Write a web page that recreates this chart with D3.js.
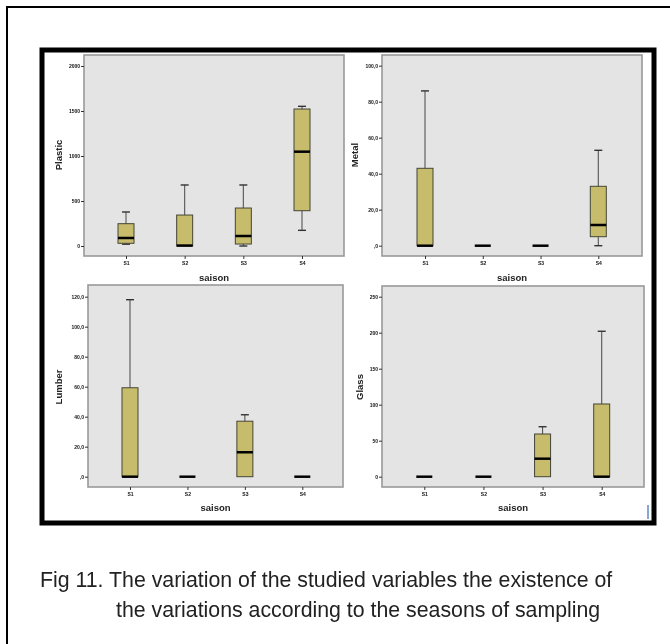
<!DOCTYPE html>
<html>
<head>
<meta charset="utf-8">
<style>
  body { margin: 0; background: #fff; }
  svg { display: block; font-family: "Liberation Sans", Arial, sans-serif; }
</style>
</head>
<body>
<div id="container"></div>
<script src="https://cdn.jsdelivr.net/npm/d3@7"></script>
<script>

// seasons on the x axis of every panel
const seasons = ["S1", "S2", "S3", "S4"];

// box stats per season: [whisker low, Q1, median, Q3, whisker high]
const plastic = [[20, 30, 89, 248, 378], [0, 0, 5, 344, 678], [0, 22, 111, 422, 678], [174, 392, 1048, 1522, 1552]];
const metal   = [[0, 0, 0, 43, 86], [0, 0, 0, 0, 0], [0, 0, 0, 0, 0], [0, 5, 11.5, 33, 53]];
const lumber  = [[0, 0, 0, 59.3, 118], [0, 0, 0, 0, 0], [0, 0, 16.3, 37, 41.3], [0, 0, 0, 0, 0]];
const glass   = [[0, 0, 0, 0, 0], [0, 0, 0, 0, 0], [0, 0, 25, 59.3, 69.4], [0, 0, 0, 101, 202]];

// y tick values
const plasticTicks = [0, 500, 1000, 1500, 2000];
const metalTicks   = [0, 20, 40, 60, 80, 100];
const lumberTicks  = [0, 20, 40, 60, 80, 100, 120];
const glassTicks   = [0, 50, 100, 150, 200, 250];

const comma = d => d === 0 ? ",0" : d + ",0";

const width = 670, height = 644;

const svg = d3.create("svg").attr("width", width).attr("height", height);

const defs = svg.append("defs");
defs.append("filter").attr("id", "soft")
  .append("feGaussianBlur").attr("stdDeviation", 0.45);

// outer page border (right/bottom run off the picture)
svg.append("rect").attr("x", 7).attr("y", 7).attr("width", 700).attr("height", 700)
  .attr("fill", "none").attr("stroke", "#000").attr("stroke-width", 2);

// figure frame
svg.append("rect").attr("x", 42).attr("y", 50).attr("width", 612).attr("height", 473)
  .attr("fill", "#fff").attr("stroke", "#000").attr("stroke-width", 5);

const chart = svg.append("g").attr("filter", "url(#soft)");

const panels = [
  { name: "Plastic", data: plastic, ticks: plasticTicks, fmt: d => d, max: 2000,
    box: [84, 55, 344, 256], yr: [246, 66], xr: [126, 302], lab: [59, 155], sais: 281 },
  { name: "Metal", data: metal, ticks: metalTicks, fmt: comma, max: 100,
    box: [382, 55, 642, 256], yr: [245.7, 65.7], xr: [425, 598.3], lab: [355, 155], sais: 281 },
  { name: "Lumber", data: lumber, ticks: lumberTicks, fmt: comma, max: 120,
    box: [88, 285, 343, 487], yr: [476.7, 296.7], xr: [130, 302.3], lab: [59, 387], sais: 511 },
  { name: "Glass", data: glass, ticks: glassTicks, fmt: d => d, max: 250,
    box: [382, 286, 644, 487], yr: [476.7, 296.7], xr: [424.3, 601.7], lab: [360, 387], sais: 511 }
];

panels.forEach(p => {
  const g = chart.append("g");
  const [x0, y0, x1, y1] = p.box;

  g.append("rect").attr("x", x0).attr("y", y0).attr("width", x1 - x0).attr("height", y1 - y0)
    .attr("fill", "#e4e4e4").attr("stroke", "#999").attr("stroke-width", 1.6);

  const y = d3.scaleLinear().domain([0, p.max]).range(p.yr);
  const x = d3.scalePoint().domain(seasons).range(p.xr);

  const ya = g.append("g").attr("transform", `translate(${x0},0)`)
    .call(d3.axisLeft(y).tickValues(p.ticks).tickFormat(p.fmt).tickSize(3).tickPadding(1));
  ya.select(".domain").remove();
  ya.selectAll("text").attr("font-size", 5).attr("font-weight", "bold").attr("fill", "#111");
  ya.selectAll("line").attr("stroke", "#333");

  const xa = g.append("g").attr("transform", `translate(0,${y1})`)
    .call(d3.axisBottom(x).tickSize(3).tickPadding(2));
  xa.select(".domain").remove();
  xa.selectAll("text").attr("font-size", 5).attr("font-weight", "bold").attr("fill", "#111");
  xa.selectAll("line").attr("stroke", "#333");

  const bw = 16, cap = 8;
  const b = g.selectAll(".bx").data(p.data).join("g").attr("class", "bx")
    .attr("transform", (d, i) => `translate(${x(seasons[i])},0)`);

  b.append("line").attr("x1", 0).attr("x2", 0)
    .attr("y1", d => y(d[4])).attr("y2", d => y(d[0]))
    .attr("stroke", "#555").attr("stroke-width", 1.1);
  b.filter(d => d[4] > d[3]).append("line").attr("x1", -cap / 2).attr("x2", cap / 2)
    .attr("y1", d => y(d[4])).attr("y2", d => y(d[4]))
    .attr("stroke", "#333").attr("stroke-width", 1.4);
  b.filter(d => d[0] < d[1]).append("line").attr("x1", -cap / 2).attr("x2", cap / 2)
    .attr("y1", d => y(d[0])).attr("y2", d => y(d[0]))
    .attr("stroke", "#333").attr("stroke-width", 1.4);
  b.filter(d => d[3] > d[1]).append("rect").attr("x", -bw / 2).attr("width", bw)
    .attr("y", d => y(d[3])).attr("height", d => y(d[1]) - y(d[3]))
    .attr("fill", "#c6bc6c").attr("stroke", "#454535").attr("stroke-width", 1);
  b.append("line").attr("x1", -bw / 2).attr("x2", bw / 2)
    .attr("y1", d => y(d[2])).attr("y2", d => y(d[2]))
    .attr("stroke", "#000").attr("stroke-width", 2.5);

  g.append("text").attr("transform", `translate(${p.lab[0]},${p.lab[1]}) rotate(-90)`)
    .attr("text-anchor", "middle").attr("dy", "0.35em")
    .attr("font-size", 9.5).attr("font-weight", "bold").attr("fill", "#222").text(p.name);

  g.append("text").attr("x", (x0 + x1) / 2).attr("y", p.sais)
    .attr("text-anchor", "middle").attr("font-size", 9.5).attr("font-weight", "bold")
    .attr("fill", "#222").text("saison");
});

// small blue scrap at the frame's lower right
svg.append("rect").attr("x", 647).attr("y", 505).attr("width", 2).attr("height", 14).attr("fill", "#8aa6d6");

// caption
const cap = svg.append("text").attr("font-size", 21.3).attr("fill", "#222");
cap.append("tspan").attr("x", 40).attr("y", 587).text("Fig 11. The variation of the studied variables the existence of");
cap.append("tspan").attr("x", 116).attr("y", 617).text("the variations according to the seasons of sampling");

container.append(svg.node());

</script>
</body>
</html>
